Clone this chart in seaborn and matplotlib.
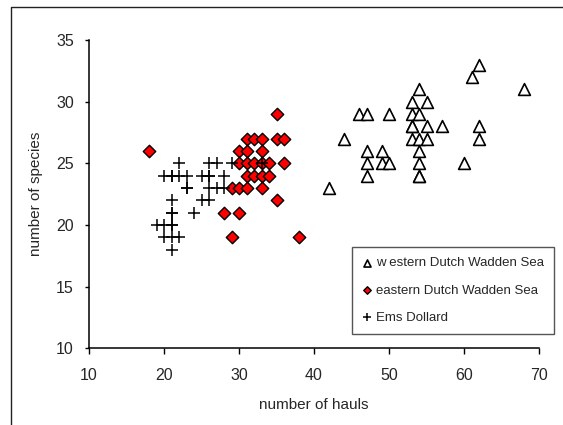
import matplotlib
matplotlib.use('Agg')
import matplotlib.pyplot as plt
from matplotlib.lines import Line2D
import numpy as np
import pandas as pd
import seaborn as sns

# western Dutch Wadden Sea (open triangles)
west_hauls = [42, 44, 46, 47, 50, 47, 47, 47, 49, 49, 50,
              53, 53, 53, 53, 53, 54, 54, 54, 54, 54, 54, 54,
              55, 55, 55, 57, 60, 61, 62, 62, 62, 68]
west_species = [23, 27, 29, 29, 29, 26, 25, 24, 26, 25, 25,
                30, 29, 28, 28, 27, 31, 29, 27, 26, 25, 24, 24,
                30, 28, 27, 28, 25, 32, 33, 28, 27, 31]

# eastern Dutch Wadden Sea (red diamonds)
east_hauls = [18, 28, 29, 29, 30, 30, 30, 30, 31, 31, 31, 31, 31,
              32, 32, 32, 33, 33, 33, 33, 33, 34, 34, 35, 35, 35, 36, 36, 38]
east_species = [26, 21, 23, 19, 26, 25, 23, 21, 27, 26, 25, 24, 23,
                27, 25, 24, 27, 26, 25, 24, 23, 25, 24, 29, 27, 22, 27, 25, 19]

# Ems Dollard (plus signs)
ems_hauls = [22, 26, 27, 29, 33,
             20, 21, 21, 22, 23, 25, 26, 26, 28,
             23, 23, 26, 27, 28,
             21, 25, 26,
             21, 21, 24,
             19, 20, 21, 21,
             20, 21, 22,
             21]
ems_species = [25, 25, 25, 25, 25,
               24, 24, 24, 24, 24, 24, 24, 24, 24,
               23, 23, 23, 23, 23,
               22, 22, 22,
               21, 21, 21,
               20, 20, 20, 20,
               19, 19, 19,
               18]

labels = ['w estern Dutch Wadden Sea', 'eastern Dutch Wadden Sea', 'Ems Dollard']
x_ticks = [10, 20, 30, 40, 50, 60, 70]
y_ticks = [10, 15, 20, 25, 30, 35]

sns.set_style('ticks')
plt.rcParams['font.family'] = ['Liberation Sans', 'DejaVu Sans']

fig = plt.figure(figsize=(5.63, 4.25), dpi=100)
ax = fig.add_axes([89 / 563, 76.7 / 425, 450 / 563, 308.3 / 425])

sns.scatterplot(x=west_hauls, y=west_species, ax=ax, marker='^', s=72,
                color='white', edgecolor='black', linewidth=1.2, label=labels[0])
sns.scatterplot(x=east_hauls, y=east_species, ax=ax, marker='D', s=40,
                color='#ff0000', edgecolor='black', linewidth=1.0, label=labels[1])
sns.scatterplot(x=ems_hauls, y=ems_species, ax=ax, marker='+', s=85,
                color='black', linewidth=1.1, label=labels[2])

ax.set_xlim(10, 70)
ax.set_ylim(10, 35)
ax.set_xticks(x_ticks)
ax.set_yticks(y_ticks)
ax.tick_params(axis='x', labelsize=11.5, length=4, width=1, pad=10, color='black')
ax.tick_params(axis='y', labelsize=11.5, length=3, width=1, pad=8, color='black')
for sp in ['top', 'right']:
    ax.spines[sp].set_visible(False)
for sp in ['left', 'bottom']:
    ax.spines[sp].set_color('black')
    ax.spines[sp].set_linewidth(1.1)

ax.set_xlabel('number of hauls', fontsize=11, labelpad=11)
ax.set_ylabel('number of species', fontsize=11, labelpad=9)

leg = ax.legend(loc='upper left', bbox_to_anchor=(0.584, 0.3286), borderaxespad=0,
                fontsize=9.5, frameon=True, fancybox=False, framealpha=1,
                edgecolor='#555555', handlelength=0.8, handletextpad=0.3,
                labelspacing=1.15, borderpad=0.75, markerscale=0.6)
leg.get_frame().set_linewidth(1.0)

# chart area border (cropped at the right and bottom)
x0 = 11 / 563
y1 = 1 - 7 / 425
fig.add_artist(Line2D([x0, x0, 1.0], [0.0, y1, y1], color='#222222', lw=1.0,
                      transform=fig.transFigure))

plt.savefig('out.png', dpi=100)
plt.close()
